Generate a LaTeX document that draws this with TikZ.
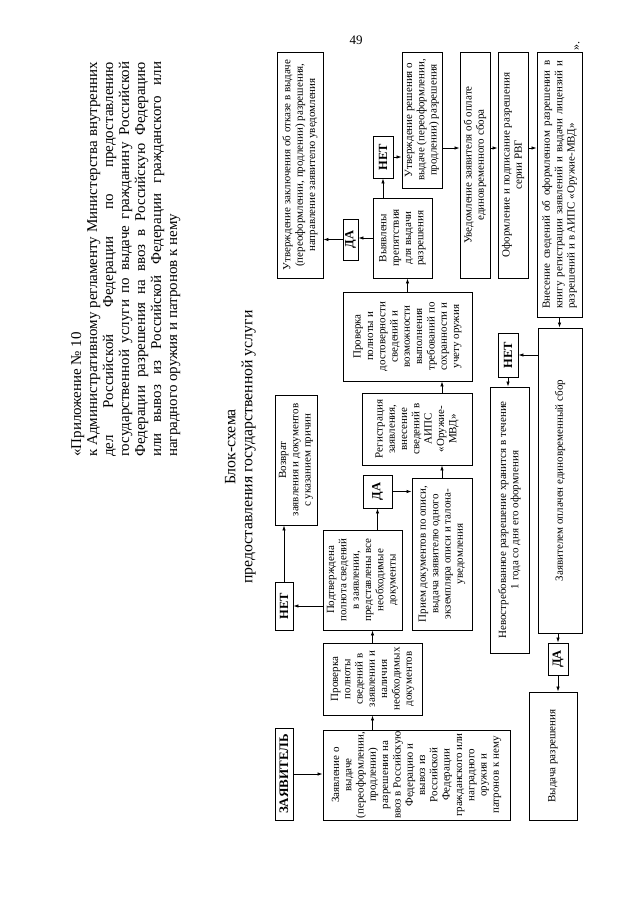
\documentclass[tikz,border=0pt]{standalone}
\usepackage{fontspec}
\setmainfont{Liberation Serif}
\usetikzlibrary{arrows.meta}
\begin{document}
\begin{tikzpicture}[x=1pt,y=1pt,
  box/.style={draw, line width=0.9pt, rotate=90, align=center, inner sep=1pt,
    font=\fontsize{11}{12.3}\selectfont},
  yn/.style={draw, line width=0.9pt, rotate=90, inner sep=1pt,
    font=\fontsize{12.5}{14}\selectfont\bfseries},
  arr/.style={-{Latex[length=5pt,width=3.5pt]}, line width=0.8pt}]
\useasboundingbox (0,0) rectangle (640,-905);

% header
\node[rotate=90, anchor=north west, inner sep=0pt, align=left,
  font=\fontsize{15}{16}\selectfont] (hdr) at (71,-457)
  {«Приложение № 10\\
   \makebox[395pt][s]{к Административному регламенту Министерства внутренних}\\
   \makebox[395pt][s]{дел Российской Федерации по предоставлению}\\
   \makebox[395pt][s]{государственной услуги по выдаче гражданину Российской}\\
   \makebox[395pt][s]{Федерации разрешения на ввоз в Российскую Федерацию}\\
   \makebox[395pt][s]{или вывоз из Российской Федерации гражданского или}\\
   наградного оружия и патронов к нему};
\node[rotate=90, align=center, font=\fontsize{15.8}{17}\selectfont] (title) at (240.5,-447)
  {Блок-схема\\предоставления государственной услуги};
\node[font=\fontsize{13}{14}\selectfont] (pg) at (356,-40) {49};
\node[rotate=90, font=\fontsize{12}{14}\selectfont] (qt) at (577,-46) {».};

% boxes
\node[box, minimum width=226pt, minimum height=46pt] (u1) at (300,-165)
  {Утверждение заключения об отказе в выдаче\\(переоформлении, продлении) разрешения,\\направление заявителю уведомления};
\node[yn, minimum width=41pt, minimum height=15pt] (da1) at (350.5,-239.5) {ДА};
\node[box, minimum width=80pt, minimum height=59pt] (vyyav) at (402.5,-238)
  {Выявлены\\препятствия\\для выдачи\\разрешения};
\node[yn, minimum width=42pt, minimum height=20pt] (net1) at (383,-157) {НЕТ};
\node[box, minimum width=136pt, minimum height=40pt] (utv2) at (422,-120)
  {Утверждение решения о\\выдаче (переоформлении,\\продлении) разрешения};
\node[box, minimum width=226pt, minimum height=30pt] (uved) at (475,-165)
  {Уведомление заявителя об оплате\\единовременного сбора};
\node[box, minimum width=226pt, minimum height=30pt] (oform) at (513,-165)
  {Оформление и подписание разрешения\\серии РВГ};
\node[box, minimum width=265pt, minimum height=45pt, align=left] (vnes) at (559.5,-184.5)
  {\makebox[248pt][s]{Внесение сведений об оформленном разрешении в}\\
   \makebox[248pt][s]{книгу регистрации заявлений и выдачи лицензий и}\\
   разрешений и в АИПС «Оружие-МВД»};
\node[box, minimum width=89pt, minimum height=129pt] (prov2) at (407.5,-336.5)
  {Проверка\\полноты и\\достоверности\\сведений и\\возможности\\выполнения\\требований по\\сохранности и\\учету оружия};
\node[box, minimum width=130pt, minimum height=42pt] (vozvr) at (296,-460)
  {Возврат\\заявления и документов\\с указанием причин};
\node[box, minimum width=72pt, minimum height=110pt] (reg) at (417,-429)
  {Регистрация\\заявления,\\внесение\\сведений в\\АИПС\\«Оружие-\\МВД»};
\node[yn, minimum width=48pt, minimum height=18pt] (net2) at (284,-606) {НЕТ};
\node[box, minimum width=100pt, minimum height=79pt] (podtv) at (362.5,-580)
  {Подтверждена\\полнота сведений\\в заявлении,\\представлены все\\необходимые\\документы};
\node[yn, minimum width=33pt, minimum height=29pt] (da2) at (377.5,-491.5) {ДА};
\node[box, minimum width=152pt, minimum height=60pt] (priem) at (442,-554)
  {Прием документов по описи,\\выдача заявителю одного\\экземпляра описи и талона-\\уведомления};
\node[box, minimum width=266pt, minimum height=39pt] (nevostr) at (509.5,-520)
  {Невостребованное разрешение хранится в течение\\1 года со дня его оформления};
\node[yn, minimum width=44pt, minimum height=20pt] (net3) at (508,-355) {НЕТ};
\node[box, minimum width=305pt, minimum height=44pt] (zayopl) at (560,-480.5)
  {Заявителем оплачен единовременный сбор};
\node[yn, minimum width=32pt, minimum height=20pt] (da3) at (558,-659) {ДА};
\node[box, minimum width=128pt, minimum height=48pt] (vydacha) at (553,-756)
  {Выдача разрешения};
\node[yn, minimum width=92pt, minimum height=18pt, font=\fontsize{13}{15}\selectfont\bfseries] (zayavitel) at (284,-774) {ЗАЯВИТЕЛЬ};
\node[box, minimum width=72pt, minimum height=99pt] (prov1) at (372.5,-679)
  {Проверка\\полноты\\сведений в\\заявлении и\\наличия\\необходимых\\документов};
\node[box, minimum width=90pt, minimum height=187pt] (zayavl) at (416.5,-775)
  {Заявление о\\выдаче\\(переоформлении,\\продлении)\\разрешения на\\ввоз в Российскую\\Федерацию и\\вывоз из\\Российской\\Федерации\\гражданского или\\наградного\\оружия и\\патронов к нему};

\coordinate (rowA) at (0,-148);

% connectors
\draw[arr] (zayavitel.south) -- (zayavitel.south -| zayavl.north);
\draw[arr] (prov1.center |- zayavl.east) -- (prov1.west);
\draw[arr] (prov1.east) -- (prov1.east |- podtv.west);
\draw[arr] (net2.south -| podtv.north) -- (net2.south);
\draw[arr] (net2.east) -- (net2.east |- vozvr.west);
\draw[arr] (da2.west |- podtv.east) -- (da2.west);
\draw[arr] (da2.south) -- (da2.south -| priem.north);
\draw[arr] (priem.east) -- (priem.east |- reg.west);
\draw[arr] (priem.east |- reg.east) -- (priem.east |- prov2.west);
\draw[arr] (prov2.east) -- (prov2.east |- vyyav.west);
\draw[arr] (vyyav.north) -- (vyyav.north -| da1.south);
\draw[arr] (da1.north) -- (da1.north -| u1.south);
\draw[arr] (net1.west |- vyyav.east) -- (net1.west);
\draw[arr] (net1.south) -- (net1.south -| utv2.north);
\draw[arr] (utv2.south |- rowA) -- (uved.north |- rowA);
\draw[arr] (uved.south |- rowA) -- (oform.north |- rowA);
\draw[arr] (oform.south |- rowA) -- (vnes.north |- rowA);
\draw[arr] (vnes.west) -- (vnes.west |- zayopl.east);
\draw[arr] (net3.south -| zayopl.north) -- (net3.south);
\draw[arr] (net3.west) -- (net3.west |- nevostr.east);
\draw[arr] (da3.east |- zayopl.west) -- (da3.east);
\draw[arr] (da3.west) -- (da3.west |- vydacha.east);
\end{tikzpicture}
\end{document}
